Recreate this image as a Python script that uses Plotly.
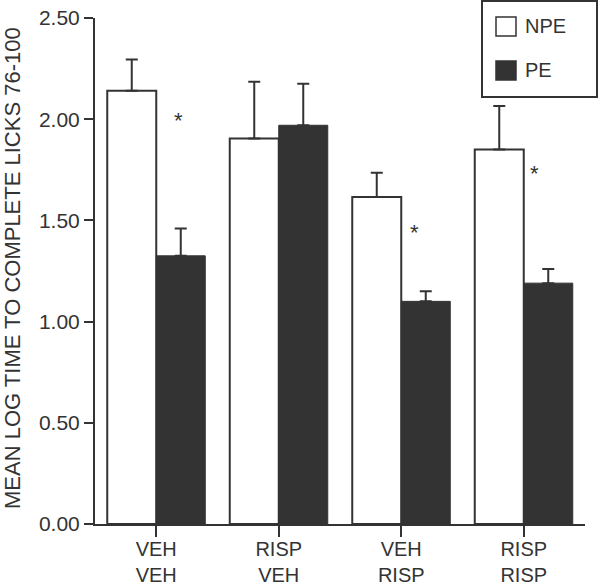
import plotly.graph_objects as go

# ---- data ----
categories = ["VEH<br>VEH", "RISP<br>VEH", "VEH<br>RISP", "RISP<br>RISP"]
npe_mean = [2.14, 1.905, 1.615, 1.85]
npe_err = [0.155, 0.28, 0.12, 0.215]
pe_mean = [1.325, 1.97, 1.10, 1.19]
pe_err = [0.135, 0.205, 0.05, 0.07]
y_ticks = [0.0, 0.5, 1.0, 1.5, 2.0, 2.5]
y_ticklabels = ["0.00", "0.50", "1.00", "1.50", "2.00", "2.50"]
star_x = [0.18, 2.106, 3.09]
star_y = [2.0, 1.45, 1.74]
y_title = "MEAN LOG TIME TO COMPLETE LICKS 76-100"

INK = "#333333"
FONT = "Liberation Sans, Arial, sans-serif"

W, H = 600, 587
# plot-area edges in pixels
L, R, T, B = 95, 585, 18, 524

fig = go.Figure()
fig.add_trace(go.Bar(
    x=list(range(len(categories))), y=npe_mean, name="NPE",
    marker=dict(color="white", line=dict(color=INK, width=2)),
    error_y=dict(type="data", array=npe_err, arrayminus=[0]*4, symmetric=False,
                 color=INK, thickness=2, width=6),
    offsetgroup="a",
))
fig.add_trace(go.Bar(
    x=list(range(len(categories))), y=pe_mean, name="PE",
    marker=dict(color=INK, line=dict(color=INK, width=1)),
    error_y=dict(type="data", array=pe_err, arrayminus=[0]*4, symmetric=False,
                 color=INK, thickness=2, width=6),
    offsetgroup="b",
))

# significance stars
for xv, yv in zip(star_x, star_y):
    fig.add_annotation(x=xv, y=yv, text="*", showarrow=False,
                       font=dict(size=22, color=INK, family=FONT),
                       xanchor="center", yanchor="middle", yshift=-1.5)

def px(xp):
    return (xp - L) / (R - L)
def py(yp):
    return (B - yp) / (B - T)

# y-axis title
fig.add_annotation(xref="paper", yref="paper", x=px(12), y=py(268), text=y_title,
                   textangle=-90, showarrow=False, xanchor="center", yanchor="middle",
                   font=dict(size=22, color=INK, family=FONT))

# manual legend box
fig.add_shape(type="rect", xref="paper", yref="paper",
              x0=px(482), x1=px(597), y0=py(97), y1=py(1),
              line=dict(color=INK, width=2), fillcolor="white", layer="above")
for (name, fill, y0, y1, yc) in [("NPE", "white", 17, 36, 26), ("PE", INK, 61, 80, 70)]:
    fig.add_shape(type="rect", xref="paper", yref="paper",
                  x0=px(496), x1=px(516), y0=py(y1), y1=py(y0),
                  line=dict(color=INK, width=1.5), fillcolor=fill, layer="above")
    fig.add_annotation(xref="paper", yref="paper", x=px(523), y=py(yc), text=name,
                       showarrow=False, xanchor="left", yanchor="middle",
                       font=dict(size=20, color=INK, family=FONT))

fig.update_layout(
    width=W, height=H,
    margin=dict(l=L, r=W - R, t=T, b=H - B, autoexpand=False),
    paper_bgcolor="white", plot_bgcolor="white",
    showlegend=False,
    barmode="group", bargap=0.2, bargroupgap=0,
    font=dict(family=FONT, size=20, color=INK),
)
fig.update_xaxes(
    range=[-0.5, 3.5], tickvals=list(range(len(categories))), ticktext=categories,
    showline=True, linecolor=INK, linewidth=2, ticks="outside", ticklen=11,
    tickwidth=2, tickcolor=INK, showgrid=False, zeroline=False, automargin=False,
    ticklabelstandoff=-5, ticklabeloverflow="allow",
    tickfont=dict(size=20, color=INK, family=FONT),
)
fig.update_yaxes(
    range=[0, 2.5], tickvals=y_ticks, ticktext=y_ticklabels,
    showline=True, linecolor=INK, linewidth=2, ticks="outside", ticklen=9,
    tickwidth=2, tickcolor=INK, showgrid=False, zeroline=False, automargin=False,
    ticklabeloverflow="allow",
    tickfont=dict(size=21, color=INK, family=FONT),
)

# remove the default 8px page margin so the figure fills the window exactly
fig.write_html("out.html", config={"displayModeBar": False},
               post_script="document.body.style.margin='0px';")
